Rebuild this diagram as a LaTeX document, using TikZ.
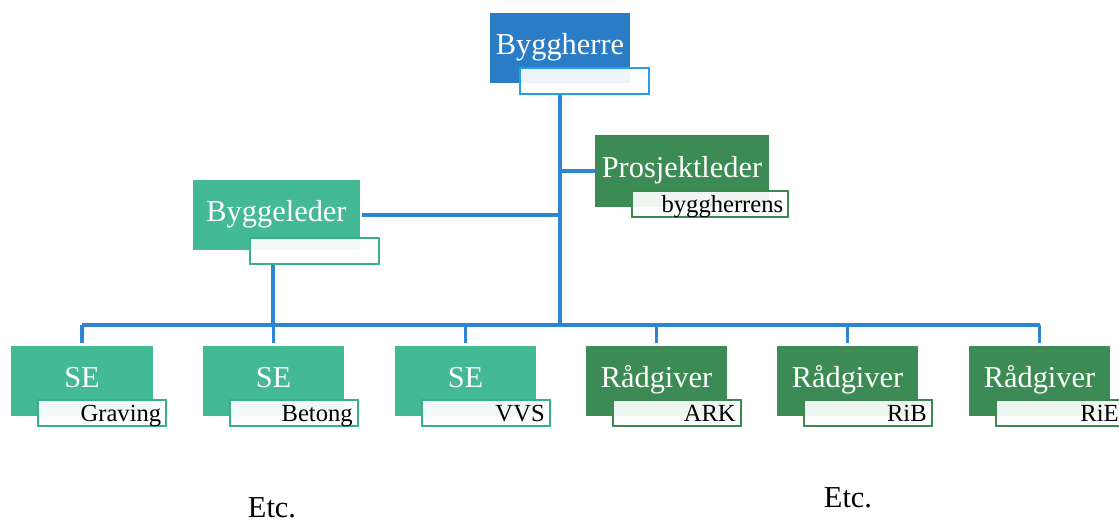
\documentclass[tikz,border=0pt]{standalone}
\usepackage{fontspec}
\setmainfont{Liberation Serif}
\usetikzlibrary{positioning, calc}
\definecolor{ownerblue}{HTML}{2A7CC7}
\definecolor{ownerblueborder}{HTML}{22A2E4}
\definecolor{linkblue}{HTML}{2E86D3}
\definecolor{siteteal}{HTML}{44B995}
\definecolor{sitetealborder}{HTML}{3AB08A}
\definecolor{advisergreen}{HTML}{3D8B54}
\definecolor{advisergreenborder}{HTML}{3A8A50}

\begin{document}
\begin{tikzpicture}[x=0.02cm, y=-0.02cm,
    mainbox/.style={fill=#1, text=white, minimum height=1.4cm, inner sep=0pt,
      text height=0.4cm, text depth=0.16cm, font=\fontsize{17.3}{20}\selectfont},
    subbox/.style={draw=#1, line width=1.3pt, fill=white, fill opacity=0.92,
      text opacity=1, text=black, minimum height=0.52cm, inner xsep=0.1cm,
      inner ysep=0pt, text height=0.32cm, text depth=0cm, align=right,
      font=\fontsize{14}{16}\selectfont},
    link/.style={draw=linkblue, line width=2pt}]
        \useasboundingbox (0,0) rectangle (1119,522);
        \clip (0,0) rectangle (1119,522);

        \node[mainbox=ownerblue, minimum width=2.8cm] (byggherre) at (560,48) {Byggherre};
        \node[subbox=ownerblueborder, text width=2.38cm, anchor=south east] (bhsub)
          at ([shift={(20,12)}]byggherre.south east) {};

        \node[mainbox=advisergreen, minimum width=3.48cm, minimum height=1.44cm] (prosjektleder)
          at (682,171) {Prosjektleder};
        \node[subbox=advisergreenborder, text width=2.92cm, anchor=south east] (plsub)
          at ([shift={(20,11)}]prosjektleder.south east) {byggherrens};

        \node[mainbox=siteteal, minimum width=3.34cm] (byggeleder) at (276.5,215) {Byggeleder};
        \node[subbox=sitetealborder, text width=2.38cm, anchor=south east] (blsub)
          at ([shift={(20,15)}]byggeleder.south east) {};

        % contractors and advisers
        \foreach \i/\cx/\col/\role/\trade in {
          1/82/siteteal/SE/Graving, 2/273.5/siteteal/SE/Betong, 3/465.5/siteteal/SE/VVS,
          4/656.5/advisergreen/Rådgiver/ARK, 5/847.5/advisergreen/Rådgiver/RiB,
          6/1039.5/advisergreen/Rådgiver/RiE
        } {
          \node[mainbox=\col, minimum width=2.84cm] (unit\i) at (\cx,381) {\role};
          \node[subbox=\col border, text width=2.36cm, anchor=south east] (unit\i sub)
            at ([shift={(14,11)}]unit\i.south east) {\trade};
        }

        \coordinate (bus) at (560,325);
        \draw[link] (byggherre.south |- bhsub.south) -- (bus);
        \draw[link] (unit1.north |- bus) -- (unit6.north |- bus);
        \draw[link] ([xshift=-0.07cm]byggeleder.south |- blsub.south) -- ([xshift=-0.07cm]byggeleder.south |- bus);
        \draw[link] ([xshift=0.04cm]byggeleder.east) -- (byggeleder.east -| bus);
        \draw[link] (prosjektleder.west -| bus) -- (prosjektleder.west);
        \foreach \i in {1,...,6} {
          \draw[link, shorten >=0.06cm] (unit\i.north |- bus) -- (unit\i.north);
        }

        \node[anchor=base, font=\fontsize{17.3}{20}\selectfont] (etcleft) at (272,517) {Etc.};
        \node[anchor=base, font=\fontsize{17.3}{20}\selectfont] (etcright) at (848,507) {Etc.};

      \end{tikzpicture}
\end{document}
